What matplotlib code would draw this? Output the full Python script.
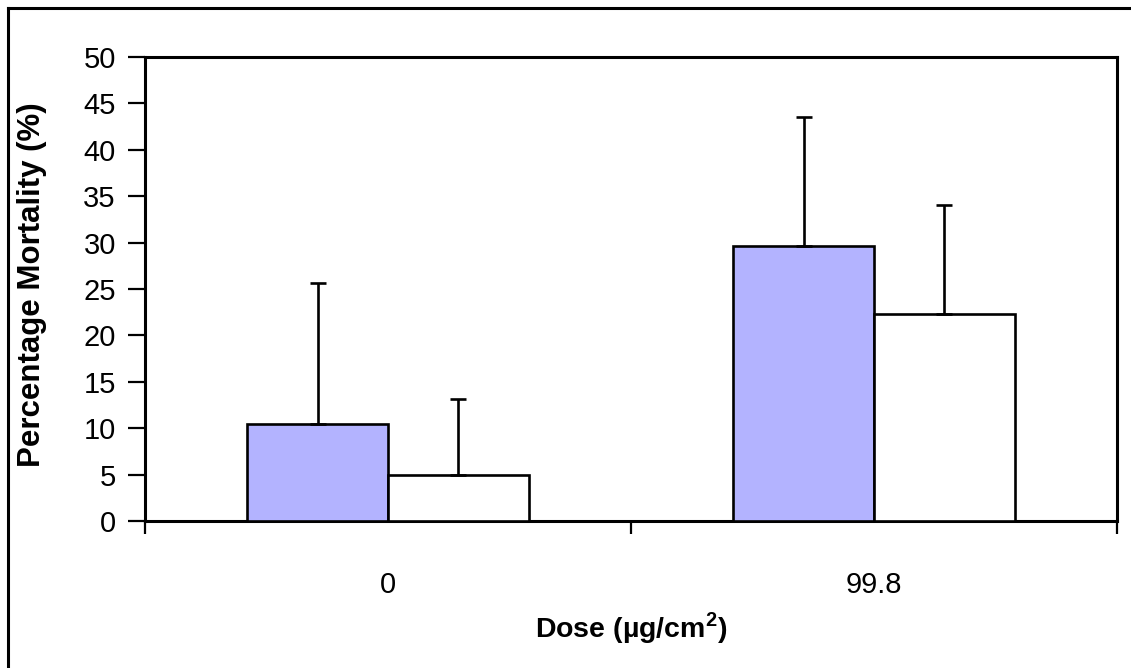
import numpy as np
import matplotlib
matplotlib.use("Agg")
import matplotlib.pyplot as plt
from matplotlib.lines import Line2D

# === DATA ===
doses = ["0", "99.8"]
series_a = [10.4, 29.6]      # blue bars
series_a_err = [15.3, 13.9]
series_b = [5.0, 22.3]       # white bars
series_b_err = [8.1, 11.7]
y_ticks = list(range(0, 55, 5))

plt.rcParams['font.family'] = ['Liberation Sans', 'DejaVu Sans']
plt.rcParams['mathtext.fontset'] = 'custom'
plt.rcParams['mathtext.rm'] = 'Liberation Sans'
plt.rcParams['mathtext.bf'] = 'Liberation Sans:bold'

W, H = 1131, 668
fig = plt.figure(figsize=(W / 100, H / 100), dpi=100)
ax = fig.add_axes([145 / W, 1 - 521 / H, (1117 - 145) / W, (521 - 57) / H])

x = np.arange(len(doses))
bw = 0.29
err_kw = dict(ecolor='black', elinewidth=1.9, capsize=5.8, capthick=1.9)

ax.bar(x - bw / 2, series_a, bw, color='#b3b3ff', edgecolor='black', linewidth=1.9,
       yerr=[np.zeros(len(doses)), series_a_err], error_kw=err_kw, zorder=3)
ax.bar(x + bw / 2, series_b, bw, color='white', edgecolor='black', linewidth=1.9,
       yerr=[np.zeros(len(doses)), series_b_err], error_kw=err_kw, zorder=3)

ax.set_xlim(-0.5, len(doses) - 0.5)
ax.set_ylim(0, 50)
ax.set_yticks(y_ticks)

# category boundary ticks, labels centred between them
ax.set_xticks(np.arange(-0.5, len(doses), 1.0))
ax.set_xticklabels([])
ax.set_xticks(x, minor=True)
ax.set_xticklabels(doses, minor=True)
ax.tick_params(axis='x', which='major', direction='out', length=9, width=1.6)
ax.tick_params(axis='x', which='minor', length=0, pad=36, labelsize=21)
ax.tick_params(axis='y', direction='out', length=12, width=1.6, pad=9, labelsize=21)

for s in ax.spines.values():
    s.set_linewidth(2.2)
    s.set_color('black')

ax.set_ylabel("Percentage Mortality (%)", fontsize=22.5, fontweight='bold')
ax.yaxis.set_label_coords((32 - 145) / (1117 - 145), (521 - 285) / (521 - 57))
ax.yaxis.label.set_va('center')
ax.set_xlabel(r"Dose (µg/cm$^{\mathbf{2}}$)", fontsize=20.5, fontweight='bold')
ax.xaxis.set_label_coords(0.5, (521 - 628) / (521 - 57))
ax.xaxis.label.set_va('center')

# outer chart frame (only top and left visible in the crop)
fig.add_artist(Line2D([8 / W, 1.0], [1 - 8 / H, 1 - 8 / H], color='black', lw=2.2,
                      transform=fig.transFigure))
fig.add_artist(Line2D([8 / W, 8 / W], [0.0, 1 - 8 / H], color='black', lw=2.2,
                      transform=fig.transFigure))

fig.savefig("out.png", dpi=100)
